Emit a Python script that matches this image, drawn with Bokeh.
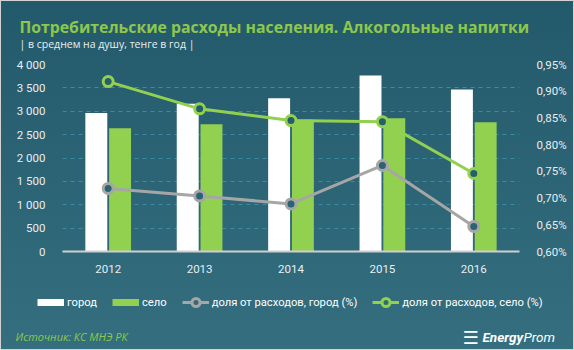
import math
from bokeh.plotting import figure
from bokeh.layouts import column
from bokeh.models import (Range1d, LinearAxis, FixedTicker, CustomJSTickFormatter, Label,
                          Legend, LegendItem, ColumnDataSource, FactorRange)
from bokeh.transform import dodge
from bokeh.embed import file_html
from bokeh.resources import INLINE

years = ["2012", "2013", "2014", "2015", "2016"]
city = [2960, 3160, 3280, 3765, 3465]
village = [2635, 2720, 2820, 2850, 2765]
share_city = [0.718, 0.704, 0.689, 0.761, 0.647]
share_village = [0.918, 0.867, 0.845, 0.843, 0.746]
left_ticks = [0, 500, 1000, 1500, 2000, 2500, 3000, 3500, 4000]
right_ticks = [0.60, 0.65, 0.70, 0.75, 0.80, 0.85, 0.90, 0.95]

WHITE = "#ffffff"
GREEN = "#92d050"
GRAY = "#a6a6a6"
TXT = "#e8eef0"
TITLE_GREEN = "#8dc84b"
FONT = "Roboto"
W = 572


def bare_fig(h):
    f = figure(width=W, height=h, x_range=Range1d(0, W), y_range=Range1d(h, 0),
               output_backend="svg", toolbar_location=None, min_border=0,
               x_axis_location=None, y_axis_location=None)
    f.border_fill_alpha = 0
    f.background_fill_alpha = 0
    f.outline_line_color = None
    f.grid.visible = False
    f.frame_align = False
    return f


# ---------------- header ----------------
head = bare_fig(50)
head.add_layout(Label(x=18, y=25.5, text="Потребительские расходы населения. Алкогольные напитки",
                      text_color=TITLE_GREEN, text_font="Open Sans", text_font_style="bold",
                      text_font_size="15.8px", text_baseline="alphabetic"))
head.add_layout(Label(x=18, y=42.5, text="| в среднем на душу, тенге в год |",
                      text_color=TXT, text_font="Open Sans", text_font_size="10.5px",
                      text_baseline="alphabetic"))

# ---------------- main chart ----------------
src = ColumnDataSource(dict(year=years, city=city, village=village,
                            share_city=share_city, share_village=share_village))

p = figure(width=W, height=235, x_range=FactorRange(*years), y_range=Range1d(0, 4000),
           output_backend="svg", toolbar_location=None,
           min_border_left=61, min_border_right=54, min_border_top=13, min_border_bottom=35)
p.border_fill_alpha = 0
p.background_fill_alpha = 0
p.outline_line_color = None
p.frame_align = False
p.extra_y_ranges = {"pct": Range1d(0.60, 0.95)}

p.xgrid.grid_line_color = None
p.ygrid.grid_line_color = "#3a8ca5"
p.ygrid.grid_line_dash = "4 4"
p.ygrid.grid_line_width = 1
p.ygrid.ticker = FixedTicker(ticks=left_ticks[1:])

p.vbar(x=dodge("year", -0.13, range=p.x_range), top="city", width=0.24, source=src,
       fill_color=WHITE, line_color=None)
p.vbar(x=dodge("year", 0.13, range=p.x_range), top="village", width=0.24, source=src,
       fill_color=GREEN, line_color=None)

p.line(x="year", y="share_city", source=src, y_range_name="pct", line_color=GRAY, line_width=3)
p.scatter(x="year", y="share_city", source=src, y_range_name="pct", size=10,
          fill_color="#2b6373", line_color=GRAY, line_width=3)
p.line(x="year", y="share_village", source=src, y_range_name="pct", line_color=GREEN, line_width=3)
p.scatter(x="year", y="share_village", source=src, y_range_name="pct", size=10,
          fill_color="#275e6e", line_color=GREEN, line_width=3)

fmt_left = CustomJSTickFormatter(code="return tick.toString().replace(/\\B(?=(\\d{3})+(?!\\d))/g, ' ');")
fmt_right = CustomJSTickFormatter(code="return tick.toFixed(2).replace('.', ',') + '%';")

la = p.yaxis[0]
la.ticker = FixedTicker(ticks=left_ticks)
la.formatter = fmt_left
ra = LinearAxis(y_range_name="pct", ticker=FixedTicker(ticks=right_ticks), formatter=fmt_right)
p.add_layout(ra, "right")

for ax in [la, ra]:
    ax.axis_line_color = None
    ax.major_tick_line_color = None
    ax.minor_tick_line_color = None
    ax.major_label_text_color = TXT
    ax.major_label_text_font = FONT
    ax.major_label_text_font_size = "11.5px"
    ax.major_label_standoff = 11

xa = p.xaxis[0]
xa.axis_line_color = "#cfcfcf"
xa.axis_line_width = 2
xa.major_tick_line_color = None
xa.minor_tick_line_color = None
xa.major_label_text_color = TXT
xa.major_label_text_font = FONT
xa.major_label_text_font_size = "11.5px"
xa.major_label_standoff = 7

# ---------------- footer (legend + source) ----------------
foot = bare_fig(63)
nan = [math.nan]
k1 = foot.line(nan, nan, line_color=WHITE, line_width=7)
k2 = foot.line(nan, nan, line_color=GREEN, line_width=7)
k3 = foot.line(nan, nan, line_color=GRAY, line_width=3)
k3m = foot.scatter(nan, nan, fill_color="#316a7a", line_color=GRAY, line_width=3)
k4 = foot.line(nan, nan, line_color=GREEN, line_width=3)
k4m = foot.scatter(nan, nan, fill_color="#316a7a", line_color=GREEN, line_width=3)

leg = Legend(items=[LegendItem(label="город", renderers=[k1]),
                    LegendItem(label="село", renderers=[k2]),
                    LegendItem(label="доля от расходов, город (%)", renderers=[k3, k3m]),
                    LegendItem(label="доля от расходов, село (%)", renderers=[k4, k4m])],
             location=(36, 37), orientation="horizontal", padding=0, margin=0,
             background_fill_alpha=0, border_line_alpha=0, label_text_color=WHITE,
             label_text_font=FONT, label_text_font_size="11.2px", label_standoff=3,
             label_height=20, glyph_width=27, glyph_height=20, spacing=15)
foot.add_layout(leg, "center")

foot.add_layout(Label(x=14, y=49.5, text="Источник: КС МНЭ РК", text_color=TITLE_GREEN,
                      text_font="Open Sans", text_font_style="italic", text_font_size="11px",
                      text_baseline="alphabetic"))
foot.add_layout(Label(x=481, y=50.5, text="Energy", text_color=WHITE, text_font=FONT,
                      text_font_style="bold italic", text_font_size="13.5px",
                      text_baseline="alphabetic"))
foot.add_layout(Label(x=522, y=50.5, text="Prom", text_color=WHITE, text_font=FONT,
                      text_font_style="italic", text_font_size="13.5px",
                      text_baseline="alphabetic"))
foot.add_layout(Label(x=461, y=51, text="☰", text_color=WHITE, text_font="DejaVu Sans",
                      text_font_style="bold", text_font_size="18px",
                      text_baseline="alphabetic"))

layout = column(head, p, foot, spacing=0,
                styles={"border": "1px solid #d3d3d3",
                        "background": "linear-gradient(to bottom, #235a6b, #346e7f)"})

open("out.html", "w").write(file_html(layout, INLINE))
